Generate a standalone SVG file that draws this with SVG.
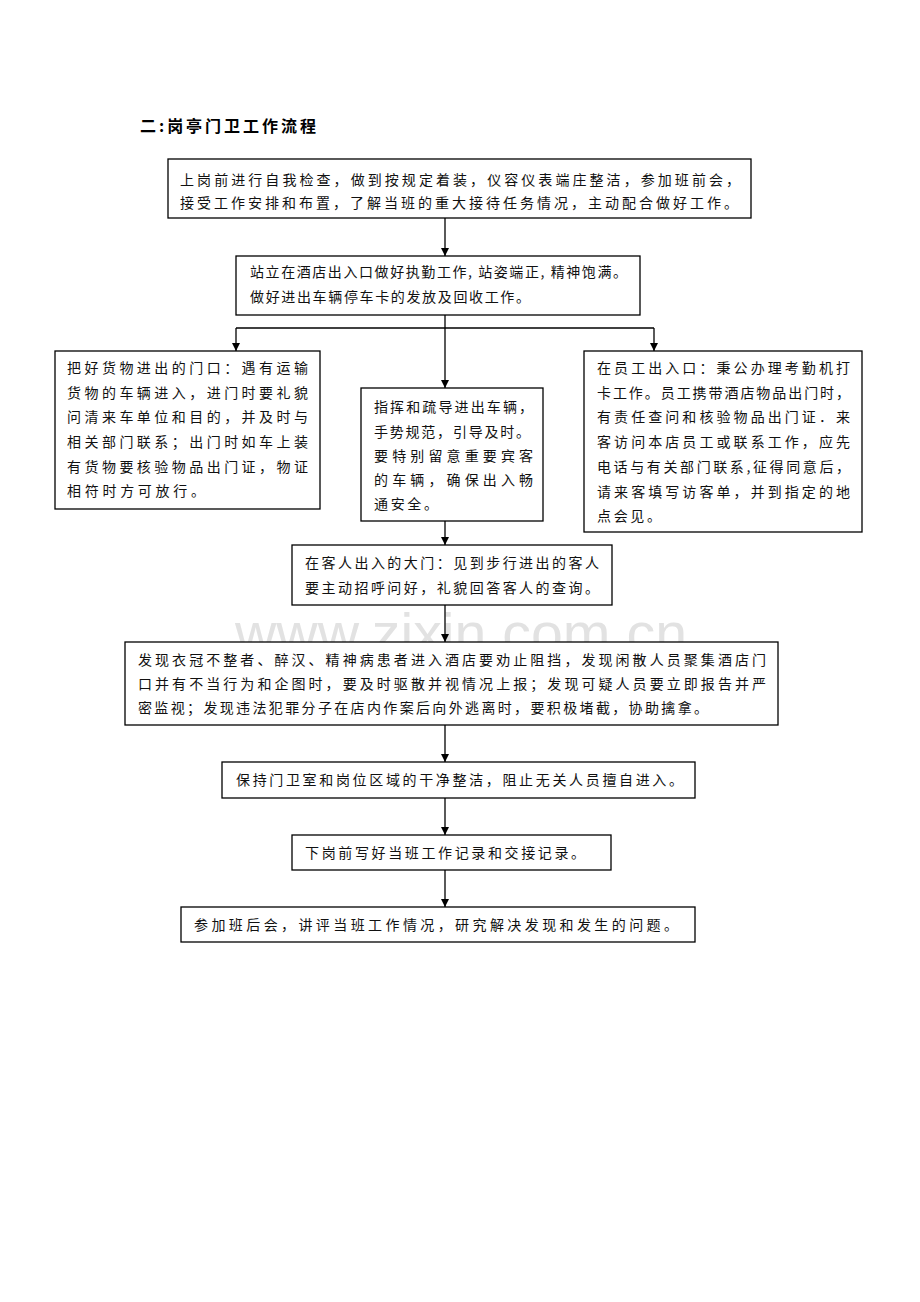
<svg xmlns="http://www.w3.org/2000/svg" width="920" height="1302" viewBox="0 0 920 1302">
<style>
.box{fill:#fff;stroke:#000;stroke-width:1.3}
.t{font-family:"Noto Sans CJK SC","Liberation Serif",serif;font-size:14px;fill:#111}
.c{stroke:#000;stroke-width:1.3;fill:none}
.wm{font-family:"Liberation Sans",Arial,sans-serif;font-size:56px;fill:#e2e2e2}
</style>
<defs>
<marker id="ah" viewBox="0 0 10 10" refX="10" refY="5" markerWidth="8" markerHeight="8" markerUnits="userSpaceOnUse" orient="auto">
<path d="M0,0 L10,5 L0,10 z" fill="#000"/>
</marker>
</defs>
<rect width="920" height="1302" fill="#fff"/>
<text class="wm" x="235" y="652" textLength="452" lengthAdjust="spacingAndGlyphs">www.zixin.com.cn</text>
<text x="140" y="132" font-family="Noto Sans CJK SC,Liberation Sans,sans-serif" font-size="16" font-weight="bold" textLength="176" lengthAdjust="spacing">二:岗亭门卫工作流程</text>

<g id="connectors">
<line class="c" x1="445" y1="218" x2="445" y2="256" marker-end="url(#ah)"/>
<line class="c" x1="445" y1="315" x2="445" y2="388" marker-end="url(#ah)"/>
<line class="c" x1="236" y1="328" x2="654" y2="328"/>
<line class="c" x1="236" y1="328" x2="236" y2="351" marker-end="url(#ah)"/>
<line class="c" x1="654" y1="328" x2="654" y2="351" marker-end="url(#ah)"/>
<line class="c" x1="445" y1="521" x2="445" y2="545" marker-end="url(#ah)"/>
<line class="c" x1="445" y1="605" x2="445" y2="642" marker-end="url(#ah)"/>
<line class="c" x1="445" y1="725" x2="445" y2="762" marker-end="url(#ah)"/>
<line class="c" x1="445" y1="798" x2="445" y2="835" marker-end="url(#ah)"/>
<line class="c" x1="445" y1="870" x2="445" y2="907" marker-end="url(#ah)"/>
</g>

<g id="n1">
<rect class="box" x="168" y="159" width="583" height="59"/>
<text class="t" x="180" y="185" textLength="560" lengthAdjust="spacing">上岗前进行自我检查，做到按规定着装，仪容仪表端庄整洁，参加班前会，</text>
<text class="t" x="180" y="208" textLength="558" lengthAdjust="spacing">接受工作安排和布置，了解当班的重大接待任务情况，主动配合做好工作。</text>
</g>

<g id="n2">
<rect class="box" x="236" y="256" width="404" height="59"/>
<text class="t" x="250" y="277" textLength="377" lengthAdjust="spacing">站立在酒店出入口做好执勤工作, 站姿端正, 精神饱满。</text>
<text class="t" x="250" y="302" textLength="280" lengthAdjust="spacing">做好进出车辆停车卡的发放及回收工作。</text>
</g>

<g id="n3">
<rect class="box" x="55" y="351" width="265" height="158"/>
<text class="t" x="67" y="373" textLength="241" lengthAdjust="spacing">把好货物进出的门口：遇有运输</text>
<text class="t" x="67" y="398" textLength="241" lengthAdjust="spacing">货物的车辆进入，进门时要礼貌</text>
<text class="t" x="67" y="422" textLength="241" lengthAdjust="spacing">问清来车单位和目的，并及时与</text>
<text class="t" x="67" y="447" textLength="241" lengthAdjust="spacing">相关部门联系；出门时如车上装</text>
<text class="t" x="67" y="472" textLength="241" lengthAdjust="spacing">有货物要核验物品出门证，物证</text>
<text class="t" x="67" y="496" textLength="138" lengthAdjust="spacing">相符时方可放行。</text>
</g>

<g id="n4">
<rect class="box" x="361" y="388" width="182" height="133"/>
<text class="t" x="374" y="412" textLength="159" lengthAdjust="spacing">指挥和疏导进出车辆，</text>
<text class="t" x="374" y="437" textLength="156" lengthAdjust="spacing">手势规范，引导及时。</text>
<text class="t" x="374" y="461" textLength="159" lengthAdjust="spacing">要特别留意重要宾客</text>
<text class="t" x="374" y="485" textLength="159" lengthAdjust="spacing">的车辆，确保出入畅</text>
<text class="t" x="374" y="509" textLength="64" lengthAdjust="spacing">通安全。</text>
</g>

<g id="n5">
<rect class="box" x="584" y="351" width="278" height="181"/>
<text class="t" x="597" y="373" textLength="253" lengthAdjust="spacing">在员工出入口：秉公办理考勤机打</text>
<text class="t" x="597" y="398" textLength="253" lengthAdjust="spacing">卡工作。员工携带酒店物品出门时，</text>
<text class="t" x="597" y="422" textLength="253" lengthAdjust="spacing">有责任查问和核验物品出门证．来</text>
<text class="t" x="597" y="447" textLength="253" lengthAdjust="spacing">客访问本店员工或联系工作，应先</text>
<text class="t" x="597" y="472" textLength="253" lengthAdjust="spacing">电话与有关部门联系,征得同意后，</text>
<text class="t" x="597" y="497" textLength="253" lengthAdjust="spacing">请来客填写访客单，并到指定的地</text>
<text class="t" x="597" y="521" textLength="64" lengthAdjust="spacing">点会见。</text>
</g>

<g id="n6">
<rect class="box" x="292" y="545" width="320" height="60"/>
<text class="t" x="305" y="568" textLength="294" lengthAdjust="spacing">在客人出入的大门：见到步行进出的客人</text>
<text class="t" x="305" y="593" textLength="294" lengthAdjust="spacing">要主动招呼问好，礼貌回答客人的查询。</text>
</g>

<g id="n7">
<rect class="box" x="125" y="642" width="653" height="83"/>
<text class="t" x="138" y="665" textLength="628" lengthAdjust="spacing">发现衣冠不整者、醉汉、精神病患者进入酒店要劝止阻挡，发现闲散人员聚集酒店门</text>
<text class="t" x="138" y="689" textLength="628" lengthAdjust="spacing">口并有不当行为和企图时，要及时驱散并视情况上报；发现可疑人员要立即报告并严</text>
<text class="t" x="138" y="713" textLength="570" lengthAdjust="spacing">密监视；发现违法犯罪分子在店内作案后向外逃离时，要积极堵截，协助擒拿。</text>
</g>

<g id="n8">
<rect class="box" x="222" y="762" width="473" height="36"/>
<text class="t" x="236" y="785" textLength="447" lengthAdjust="spacing">保持门卫室和岗位区域的干净整洁，阻止无关人员擅自进入。</text>
</g>

<g id="n9">
<rect class="box" x="292" y="835" width="319" height="35"/>
<text class="t" x="305" y="858" textLength="280" lengthAdjust="spacing">下岗前写好当班工作记录和交接记录。</text>
</g>

<g id="n10">
<rect class="box" x="181" y="907" width="514" height="35"/>
<text class="t" x="194" y="930" textLength="484" lengthAdjust="spacing">参加班后会，讲评当班工作情况，研究解决发现和发生的问题。</text>
</g>
</svg>
